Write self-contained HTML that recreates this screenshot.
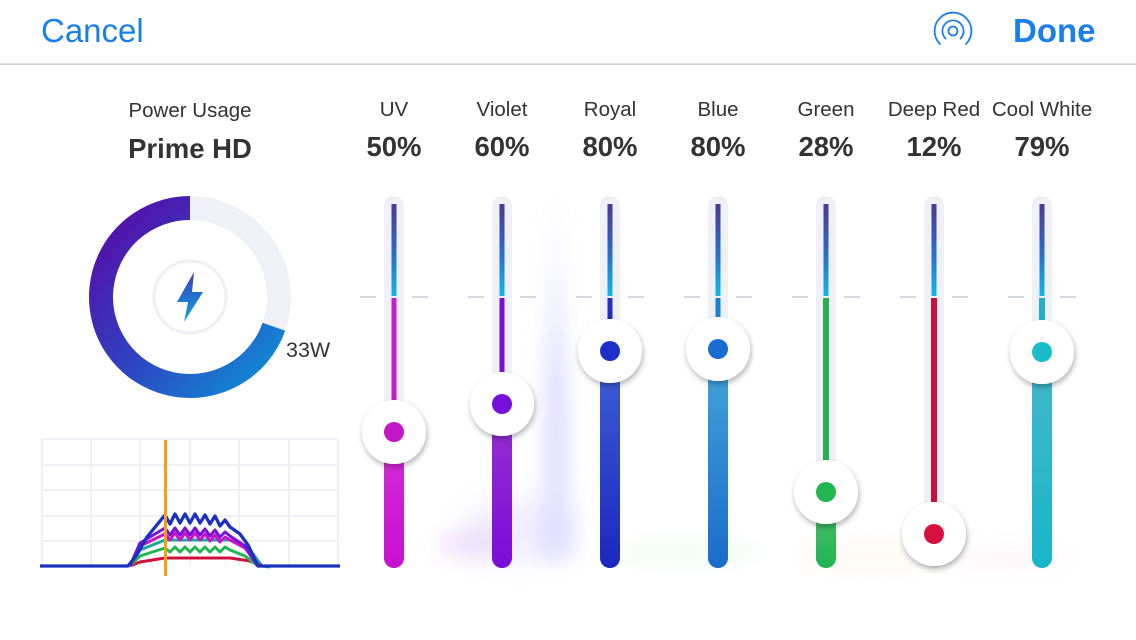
<!DOCTYPE html>
<html><head><meta charset="utf-8"><style>
html,body{margin:0;padding:0;background:#fff;width:1136px;height:640px;overflow:hidden}
svg{display:block}
text{font-family:"Liberation Sans",sans-serif}
</style></head><body>
<svg width="1136" height="640" viewBox="0 0 1136 640" xmlns="http://www.w3.org/2000/svg">
<defs>
<filter id="blur" filterUnits="userSpaceOnUse" x="0" y="0" width="1136" height="640"><feGaussianBlur stdDeviation="14"/></filter>
<filter id="blur2" filterUnits="userSpaceOnUse" x="0" y="0" width="1136" height="640"><feGaussianBlur stdDeviation="10"/></filter>
<filter id="sh" x="-50%" y="-50%" width="200%" height="200%"><feDropShadow dx="1" dy="3" stdDeviation="3" flood-color="#000" flood-opacity="0.3"/></filter>
<linearGradient id="topg" x1="0" y1="0" x2="0" y2="1"><stop offset="0" stop-color="#4b3795"/><stop offset="0.55" stop-color="#2a6ec8"/><stop offset="1" stop-color="#10b8ea"/></linearGradient>
<linearGradient id="ring" x1="0" y1="0" x2="1" y2="1"><stop offset="0" stop-color="#5a08a6"/><stop offset="0.5" stop-color="#3040c0"/><stop offset="1" stop-color="#0e92d6"/></linearGradient>
<linearGradient id="bolt" x1="0" y1="0" x2="0" y2="1"><stop offset="0" stop-color="#3a3aba"/><stop offset="1" stop-color="#0ea8e0"/></linearGradient>
<linearGradient id="gUV" x1="0" y1="0" x2="0" y2="1"><stop offset="0" stop-color="#d430d8"/><stop offset="1" stop-color="#c810d0"/></linearGradient>
<linearGradient id="gVi" x1="0" y1="0" x2="0" y2="1"><stop offset="0" stop-color="#9a30d0"/><stop offset="1" stop-color="#7a0cd8"/></linearGradient>
<linearGradient id="gRo" x1="0" y1="0" x2="0" y2="1"><stop offset="0" stop-color="#4060d4"/><stop offset="1" stop-color="#1a28c0"/></linearGradient>
<linearGradient id="gBl" x1="0" y1="0" x2="0" y2="1"><stop offset="0" stop-color="#44a6d8"/><stop offset="1" stop-color="#1a6ccc"/></linearGradient>
<linearGradient id="gGr" x1="0" y1="0" x2="0" y2="1"><stop offset="0" stop-color="#50c070"/><stop offset="1" stop-color="#22b450"/></linearGradient>
<linearGradient id="gCW" x1="0" y1="0" x2="0" y2="1"><stop offset="0" stop-color="#44b8c8"/><stop offset="1" stop-color="#18b6ca"/></linearGradient>
<linearGradient id="peak" x1="0" y1="0" x2="0" y2="1"><stop offset="0" stop-color="#c8c4ff" stop-opacity="0.2"/><stop offset="0.5" stop-color="#c4c0ff" stop-opacity="0.6"/><stop offset="1" stop-color="#d0ccff" stop-opacity="0.5"/></linearGradient>
</defs>

<!-- header -->
<text x="41" y="42" font-size="33" fill="#1b7fea">Cancel</text>
<text x="1013" y="42" font-size="33" font-weight="bold" fill="#1b7fea">Done</text>
<g fill="none" stroke="#1b7fea" stroke-width="1.8" stroke-linecap="round">
<circle cx="953" cy="31" r="4.5"/>
<path d="M945.5 38.5 A10.6 10.6 0 1 1 960.5 38.5"/>
<path d="M940 44 A18.4 18.4 0 1 1 966 44"/>
</g>
<rect x="0" y="63.5" width="1136" height="1.3" fill="#c4c4c4"/>

<!-- background glows -->
<path d="M540 560 Q548 300 556 200 Q564 300 572 560 Z" fill="url(#peak)" filter="url(#blur2)"/>
<ellipse cx="520" cy="530" rx="60" ry="30" fill="#d4ccff" opacity="0.35" filter="url(#blur)"/>
<ellipse cx="470" cy="545" rx="35" ry="14" fill="#dcb8f0" opacity="0.35" filter="url(#blur2)"/>
<ellipse cx="690" cy="552" rx="70" ry="8" fill="#c8f0d0" opacity="0.35" filter="url(#blur2)"/>
<ellipse cx="870" cy="556" rx="70" ry="8" fill="#f8e4c8" opacity="0.35" filter="url(#blur2)"/>
<ellipse cx="1010" cy="558" rx="60" ry="7" fill="#f8d4dc" opacity="0.3" filter="url(#blur2)"/>

<!-- left panel -->
<text x="190" y="117" font-size="20.5" fill="#333" text-anchor="middle">Power Usage</text>
<text x="190" y="158" font-size="27.5" font-weight="bold" fill="#333" text-anchor="middle">Prime HD</text>
<circle cx="190" cy="297" r="89" fill="none" stroke="#f0f1f6" stroke-width="24"/>
<path d="M190 208 A89 89 0 1 0 273.9 326.7" fill="none" stroke="url(#ring)" stroke-width="24"/>
<circle cx="190" cy="297" r="36" fill="none" stroke="#eff0f4" stroke-width="3"/>
<path d="M194 272 L177 302 L188 302 L184 322 L203 292 L192 292 Z" fill="url(#bolt)"/>
<text x="286" y="357" font-size="21.5" fill="#333">33W</text>

<!-- mini chart -->
<g stroke="#eef0f5" stroke-width="2" fill="none">
<path d="M42 439V566M91 439V566M140 439V566M190 439V566M239 439V566M289 439V566M338 439V566"/>
<path d="M42 439H338M42 465H338M42 490H338M42 516H338M42 541H338"/>
</g>
<g fill="none" stroke-width="3" stroke-linejoin="round">
<polyline stroke="#20a8a0" points="130,566 140,550 165,540 230,540 250,550 262,566 270,567"/>
<polyline stroke="#d0103a" points="130,566 140,562 165,558 230,558 250,561 262,566"/>
<polyline stroke="#22b450" points="130,566 140,556 165,548 170,552 175,547 180,552 185,547 190,552 195,547 200,552 205,547 210,552 215,547 220,552 225,547 230,550 245,556 258,566"/>
<polyline stroke="#c815cc" points="130,566 140,546 165,534 170,540 175,533 180,540 185,533 190,540 195,533 200,540 205,534 210,541 215,535 220,542 225,537 230,540 245,548 258,566"/>
<polyline stroke="#7a12d6" points="130,566 140,543 165,528 170,535 175,528 180,535 185,528 190,535 195,528 200,535 205,529 210,536 215,530 220,537 225,532 230,536 245,546 258,566"/>
<polyline stroke="#1a30c0" stroke-width="3.3" points="40,566 128,566 136,556 147,537 165,515 170,524 175,514 180,523 185,514 190,523 195,514 200,523 205,515 210,524 215,516 220,526 225,520 230,527 240,534 248,545 258,566 340,566"/>
</g>
<rect x="164" y="440" width="3" height="136" fill="#f5a010"/>

<!-- sliders -->
<g font-size="20.5" fill="#333" text-anchor="middle">
<text x="394" y="116">UV</text><text x="502" y="116">Violet</text><text x="610" y="116">Royal</text><text x="718" y="116">Blue</text><text x="826" y="116">Green</text><text x="934" y="116">Deep Red</text><text x="1042" y="116">Cool White</text>
</g>
<g font-size="27.5" font-weight="bold" fill="#333" text-anchor="middle">
<text x="394" y="156">50%</text><text x="502" y="156">60%</text><text x="610" y="156">80%</text><text x="718" y="156">80%</text><text x="826" y="156">28%</text><text x="934" y="156">12%</text><text x="1042" y="156">79%</text>
</g>

<g>
<!-- UV -->
<rect x="384" y="196" width="20" height="372" rx="10" fill="#f0f1f6"/>
<rect x="391.5" y="204" width="5" height="92" fill="url(#topg)"/>
<path d="M360 297H376M412 297H428" stroke="#d6dae0" stroke-width="2"/>
<rect x="391.5" y="298" width="5" height="110" fill="#c020c8"/>
<rect x="384" y="432" width="20" height="136" rx="10" fill="url(#gUV)"/>
<circle cx="394" cy="432" r="32" fill="#fff" filter="url(#sh)"/><circle cx="394" cy="432" r="10" fill="#c515c8"/>
<!-- Violet -->
<rect x="492" y="196" width="20" height="372" rx="10" fill="#f0f1f6"/>
<rect x="499.5" y="204" width="5" height="92" fill="url(#topg)"/>
<path d="M468 297H484M520 297H536" stroke="#d6dae0" stroke-width="2"/>
<rect x="499.5" y="298" width="5" height="80" fill="#7a10d0"/>
<rect x="492" y="404" width="20" height="164" rx="10" fill="url(#gVi)"/>
<circle cx="502" cy="404" r="32" fill="#fff" filter="url(#sh)"/><circle cx="502" cy="404" r="10" fill="#7410d8"/>
<!-- Royal -->
<rect x="600" y="196" width="20" height="372" rx="10" fill="#f0f1f6"/>
<rect x="607.5" y="204" width="5" height="92" fill="url(#topg)"/>
<path d="M576 297H592M628 297H644" stroke="#d6dae0" stroke-width="2"/>
<rect x="607.5" y="298" width="5" height="30" fill="#2030c0"/>
<rect x="600" y="351" width="20" height="217" rx="10" fill="url(#gRo)"/>
<circle cx="610" cy="351" r="32" fill="#fff" filter="url(#sh)"/><circle cx="610" cy="351" r="10" fill="#1a30c8"/>
<!-- Blue -->
<rect x="708" y="196" width="20" height="372" rx="10" fill="#f0f1f6"/>
<rect x="715.5" y="204" width="5" height="92" fill="url(#topg)"/>
<path d="M684 297H700M736 297H752" stroke="#d6dae0" stroke-width="2"/>
<rect x="715.5" y="298" width="5" height="30" fill="#1a80d0"/>
<rect x="708" y="349" width="20" height="219" rx="10" fill="url(#gBl)"/>
<circle cx="718" cy="349" r="32" fill="#fff" filter="url(#sh)"/><circle cx="718" cy="349" r="10" fill="#1a6cd0"/>
<!-- Green -->
<rect x="816" y="196" width="20" height="372" rx="10" fill="#f0f1f6"/>
<rect x="823.5" y="204" width="5" height="92" fill="url(#topg)"/>
<path d="M792 297H808M844 297H860" stroke="#d6dae0" stroke-width="2"/>
<rect x="823" y="298" width="6" height="170" fill="#28b050"/>
<rect x="816" y="492" width="20" height="76" rx="10" fill="url(#gGr)"/>
<circle cx="826" cy="492" r="32" fill="#fff" filter="url(#sh)"/><circle cx="826" cy="492" r="10" fill="#22b550"/>
<!-- Deep Red -->
<rect x="924" y="196" width="20" height="372" rx="10" fill="#f0f1f6"/>
<rect x="931.5" y="204" width="5" height="92" fill="url(#topg)"/>
<path d="M900 297H916M952 297H968" stroke="#d6dae0" stroke-width="2"/>
<rect x="931" y="298" width="6" height="210" fill="#c81040"/>
<circle cx="934" cy="534" r="32" fill="#fff" filter="url(#sh)"/><circle cx="934" cy="534" r="10" fill="#d81040"/>
<!-- Cool White -->
<rect x="1032" y="196" width="20" height="372" rx="10" fill="#f0f1f6"/>
<rect x="1039.5" y="204" width="5" height="92" fill="url(#topg)"/>
<path d="M1008 297H1024M1060 297H1076" stroke="#d6dae0" stroke-width="2"/>
<rect x="1039" y="298" width="6" height="30" fill="#20b0c8"/>
<rect x="1032" y="352" width="20" height="216" rx="10" fill="url(#gCW)"/>
<circle cx="1042" cy="352" r="32" fill="#fff" filter="url(#sh)"/><circle cx="1042" cy="352" r="10" fill="#18bccc"/>
</g>
</svg>
</body></html>
